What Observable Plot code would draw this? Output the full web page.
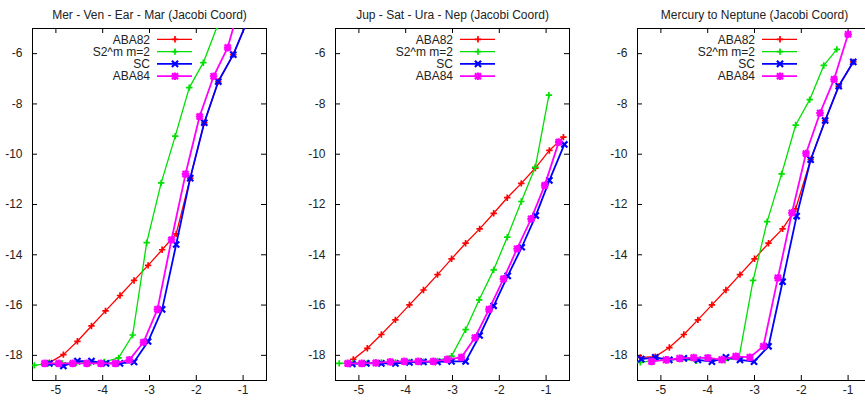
<!DOCTYPE html>
<html><head><meta charset="utf-8">
<script src="https://cdn.jsdelivr.net/npm/d3@7"></script>
<script src="https://cdn.jsdelivr.net/npm/@observablehq/plot@0.6"></script>
<style>
body{margin:0;background:#fff;overflow:hidden;}
#wrap{position:relative;width:865px;height:403px;overflow:hidden;background:#fff;}
.panel{position:absolute;top:0;}
</style></head><body><div id="wrap"></div>
<script>
const seriesNames = ["ABA82", "S2^m m=2", "SC", "ABA84"];
const seriesColors = ["#ff0000", "#00e000", "#0000ff", "#ff00ff"];
const panelTitles = ["Mer - Ven - Ear - Mar (Jacobi Coord)", "Jup - Sat - Ura - Nep (Jacobi Coord)", "Mercury to Neptune (Jacobi Coord)"];
const xTicks = [-5, -4, -3, -2, -1];
const yTicks = [-6, -8, -10, -12, -14, -16, -18];

// Panel 1: Mer - Ven - Ear - Mar
const p1_aba82_x = [-5.14, -4.84, -4.54, -4.24, -3.94, -3.63, -3.33, -3.03, -2.73, -2.43, -2.13, -1.83, -1.53, -1.21, -0.91];
const p1_aba82_y = [-18.29, -17.97, -17.44, -16.83, -16.23, -15.62, -15.02, -14.42, -13.80, -13.17, -10.95, -8.75, -7.11, -6.04, -4.7];
const p1_s2m_x = [-5.46, -5.16, -4.86, -4.56, -4.26, -3.96, -3.66, -3.36, -3.06, -2.75, -2.45, -2.15, -1.85, -1.55];
const p1_s2m_y = [-18.40, -18.32, -18.32, -18.30, -18.30, -18.26, -18.10, -17.19, -13.52, -11.14, -9.28, -7.35, -6.36, -4.9];
const p1_sc_x = [-5.14, -4.84, -4.54, -4.24, -3.93, -3.63, -3.33, -3.03, -2.73, -2.43, -2.13, -1.83, -1.53, -1.21, -0.91];
const p1_sc_y = [-18.32, -18.42, -18.23, -18.23, -18.32, -18.32, -18.26, -17.45, -16.17, -13.59, -10.95, -8.75, -7.11, -6.04, -4.7];
const p1_aba84_x = [-5.24, -4.94, -4.64, -4.34, -4.04, -3.73, -3.43, -3.13, -2.83, -2.53, -2.23, -1.93, -1.63, -1.33, -1.03];
const p1_aba84_y = [-18.32, -18.32, -18.32, -18.32, -18.32, -18.32, -18.18, -17.48, -16.17, -13.40, -10.79, -8.50, -6.90, -5.76, -3.8];

// Panel 2: Jup - Sat - Ura - Nep
const p2_aba82_x = [-5.12, -4.82, -4.52, -4.22, -3.92, -3.62, -3.32, -3.02, -2.72, -2.42, -2.12, -1.83, -1.53, -1.23, -0.93, -0.63];
const p2_aba82_y = [-18.16, -17.72, -17.17, -16.59, -15.99, -15.40, -14.79, -14.16, -13.54, -12.97, -12.35, -11.73, -11.16, -10.55, -9.85, -9.32];
const p2_s2m_x = [-5.42, -5.12, -4.82, -4.52, -4.22, -3.92, -3.62, -3.32, -3.02, -2.72, -2.43, -2.12, -1.83, -1.53, -1.23, -0.94];
const p2_s2m_y = [-18.32, -18.30, -18.30, -18.28, -18.28, -18.26, -18.25, -18.22, -18.03, -16.98, -15.79, -14.60, -13.30, -11.88, -10.51, -7.65];
const p2_sc_x = [-5.14, -4.84, -4.52, -4.22, -3.92, -3.62, -3.32, -3.02, -2.72, -2.42, -2.12, -1.82, -1.52, -1.22, -0.93, -0.61];
const p2_sc_y = [-18.34, -18.32, -18.32, -18.32, -18.28, -18.26, -18.26, -18.24, -18.24, -17.21, -16.03, -14.84, -13.70, -12.44, -11.04, -9.61];
const p2_aba84_x = [-5.24, -4.94, -4.64, -4.33, -4.03, -3.73, -3.41, -3.11, -2.81, -2.52, -2.22, -1.91, -1.62, -1.32, -1.03, -0.73];
const p2_aba84_y = [-18.32, -18.32, -18.30, -18.26, -18.24, -18.24, -18.24, -18.16, -18.08, -17.30, -16.17, -14.96, -13.76, -12.57, -11.24, -9.52];

// Panel 3: Mercury to Neptune
const p3_aba82_x = [-5.44, -5.12, -4.82, -4.51, -4.21, -3.91, -3.61, -3.31, -3.00, -2.70, -2.40, -2.12, -1.80, -1.49, -1.20, -0.89];
const p3_aba82_y = [-18.08, -18.05, -17.69, -17.17, -16.59, -15.99, -15.40, -14.79, -14.16, -13.54, -12.97, -12.17, -10.22, -8.66, -7.29, -6.33];
const p3_s2m_x = [-5.44, -5.14, -4.84, -4.54, -4.24, -3.93, -3.63, -3.33, -3.03, -2.73, -2.42, -2.12, -1.82, -1.52, -1.24];
const p3_s2m_y = [-18.28, -18.20, -18.18, -18.15, -18.22, -18.18, -18.20, -18.08, -15.02, -12.68, -10.78, -8.84, -7.83, -6.47, -5.83];
const p3_sc_x = [-5.42, -5.12, -4.82, -4.51, -4.21, -3.91, -3.61, -3.31, -3.01, -2.70, -2.40, -2.10, -1.80, -1.49, -1.20, -0.89];
const p3_sc_y = [-18.15, -18.08, -18.18, -18.12, -18.18, -18.25, -18.08, -18.18, -18.25, -17.64, -15.07, -12.46, -10.22, -8.66, -7.29, -6.33];
const p3_aba84_x = [-5.20, -4.89, -4.60, -4.30, -4.00, -3.70, -3.40, -3.10, -2.81, -2.50, -2.20, -1.90, -1.60, -1.30, -1.00];
const p3_aba84_y = [-18.24, -18.18, -18.12, -18.09, -18.10, -18.17, -18.04, -18.08, -17.64, -14.92, -12.33, -9.97, -8.36, -7.02, -5.23];

const panels = [
  [[p1_aba82_x, p1_aba82_y], [p1_s2m_x, p1_s2m_y], [p1_sc_x, p1_sc_y], [p1_aba84_x, p1_aba84_y]],
  [[p2_aba82_x, p2_aba82_y], [p2_s2m_x, p2_s2m_y], [p2_sc_x, p2_sc_y], [p2_aba84_x, p2_aba84_y]],
  [[p3_aba82_x, p3_aba82_y], [p3_s2m_x, p3_s2m_y], [p3_sc_x, p3_sc_y], [p3_aba84_x, p3_aba84_y]]
];

// gnuplot-like point symbols
const gpPlus = {draw(c, s) { const r = Math.sqrt(s / Math.PI); c.moveTo(-r, 0); c.lineTo(r, 0); c.moveTo(0, -r); c.lineTo(0, r); }};
const gpTimes = {draw(c, s) { const r = Math.sqrt(s / Math.PI) * 0.85; c.moveTo(-r, -r); c.lineTo(r, r); c.moveTo(-r, r); c.lineTo(r, -r); }};
const gpStar = {draw(c, s) { const r = Math.sqrt(s / Math.PI); const q = r * 0.8;
  c.moveTo(-r, 0); c.lineTo(r, 0); c.moveTo(0, -r); c.lineTo(0, r);
  c.moveTo(-q, -q); c.lineTo(q, q); c.moveTo(-q, q); c.lineTo(q, -q); }};
const symbols = [gpPlus, gpPlus, gpTimes, gpStar];
const lineWidths = [1.3, 1.3, 1.8, 1.8];
const markR = [3.2, 3.2, 3.6, 3.8];

const W = 303, H = 403, mL = 32, mR = 37, mT = 28, mB = 23;
const innerW = W - mL - mR, innerH = H - mT - mB;
const panelLefts = [0, 303, 605];
const font = "'Liberation Sans', Arial, Helvetica, sans-serif";

const wrap = document.getElementById("wrap");
panels.forEach((series, pi) => {
  const marks = [
    Plot.frame({stroke: "black", strokeWidth: 1}),
    Plot.tickX(xTicks, {x: d => d, insetTop: innerH - 5, stroke: "black"}),
    Plot.tickX(xTicks, {x: d => d, insetBottom: innerH - 5, stroke: "black"}),
    Plot.tickY(yTicks, {y: d => d, insetRight: innerW - 5, stroke: "black"}),
    Plot.tickY(yTicks, {y: d => d, insetLeft: innerW - 5, stroke: "black"}),
    Plot.axisX(xTicks, {tickSize: 0, tickPadding: 5, tickFormat: d => String(d), fontSize: 12, fill: "#222", label: null}),
    Plot.axisY(yTicks, {tickSize: 0, tickPadding: 10, tickFormat: d => String(d), fontSize: 12, fill: "#222", label: null}),
    Plot.text([panelTitles[pi]], {frameAnchor: "top", dy: -18, fontSize: 12, fill: "#222"})
  ];
  series.forEach(([xs, ys], si) => {
    const data = xs.map((x, i) => ({x, y: ys[i]}));
    marks.push(Plot.line(data, {x: "x", y: "y", stroke: seriesColors[si], strokeWidth: lineWidths[si], clip: true}));
    marks.push(Plot.dot(data, {x: "x", y: "y", symbol: symbols[si], r: markR[si], stroke: seriesColors[si], fill: "none", strokeWidth: lineWidths[si] + 0.4, clip: true}));
  });
  const plot = Plot.plot({
    width: W, height: H,
    marginLeft: mL, marginRight: mR, marginTop: mT, marginBottom: mB,
    x: {domain: [-5.5, -0.5], label: null},
    y: {domain: [-19, -5], label: null},
    style: {fontFamily: font, fontSize: "12px", background: "white", overflow: "visible"},
    marks
  });
  // legend (inside top-left of frame, gnuplot style)
  const svg = d3.select(plot);
  const g = svg.append("g").attr("font-family", font).attr("font-size", 12).attr("fill", "#222");
  seriesNames.forEach((name, i) => {
    const yy = 39.3 + i * 12.3;
    g.append("text").attr("x", mL + 118).attr("y", yy).attr("dy", "0.35em").attr("text-anchor", "end").text(name);
    g.append("line").attr("x1", mL + 125).attr("x2", mL + 160).attr("y1", yy).attr("y2", yy)
      .attr("stroke", seriesColors[i]).attr("stroke-width", lineWidths[i]);
    g.append("path").attr("d", d3.symbol(symbols[i], Math.PI * markR[i] * markR[i])())
      .attr("transform", `translate(${mL + 143},${yy})`).attr("fill", "none")
      .attr("stroke", seriesColors[i]).attr("stroke-width", lineWidths[i] + 0.4);
  });
  plot.classList.add("panel");
  plot.style.left = panelLefts[pi] + "px";
  wrap.appendChild(plot);
});
</script></body></html>
